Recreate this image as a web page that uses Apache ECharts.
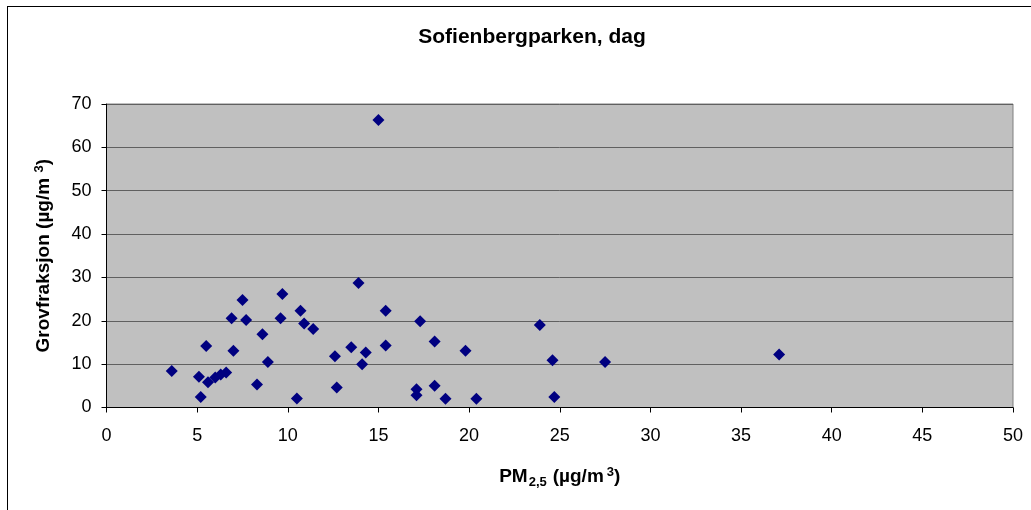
<!DOCTYPE html>
<html>
<head>
<meta charset="utf-8">
<script src="https://cdn.jsdelivr.net/npm/echarts@6/dist/echarts.min.js"></script>
<style>
  html, body { margin: 0; padding: 0; background: #fff; }
  #frame { position: absolute; left: 7px; top: 6px; width: 1030px; height: 520px; border: 1px solid #000; box-sizing: border-box; }
  #chart { position: absolute; left: 0; top: 0; width: 1031px; height: 510px; }
</style>
</head>
<body>
<div id="frame"></div>
<div id="chart"></div>
<script>
// PM2,5 (x) mot grovfraksjon (y), Sofienbergparken dag
const pm25 = [3.6, 5.1, 5.2, 5.5, 5.6, 6.0, 6.3, 6.6, 6.9, 7.0, 7.5, 7.7, 8.6, 8.3, 8.9,
  9.7, 9.6, 10.5, 10.7, 10.9, 11.4, 12.6, 12.7, 13.5, 13.9, 14.3, 14.1, 15.0, 15.4, 15.4,
  17.3, 17.1, 17.1, 18.1, 18.1, 18.7, 19.8, 20.4, 23.9, 24.6, 24.7, 27.5, 37.1]
const grov = [8.4, 7.1, 2.4, 14.2, 5.8, 6.9, 7.6, 8.1, 20.6, 13.1, 24.8, 20.2, 16.9, 5.3, 10.5,
  26.2, 20.6, 2.1, 22.3, 19.4, 18.1, 11.8, 4.6, 13.9, 28.7, 12.7, 10.0, 66.3, 22.3, 14.3,
  19.9, 4.2, 2.8, 15.2, 5.0, 2.0, 13.1, 2.0, 19.0, 10.9, 2.4, 10.5, 12.2]

const chart = echarts.init(document.getElementById('chart'))
chart.setOption({
  animation: false,
  textStyle: { fontFamily: 'Liberation Sans, Arial, sans-serif' },
  title: {
    text: 'Sofienbergparken, dag',
    left: 527, top: 22, textAlign: 'center',
    textStyle: { fontSize: 21, fontWeight: 'bold', color: '#000' }
  },
  grid: {
    left: 106.5, right: 18, top: 104, bottom: 102.5,
    show: true, backgroundColor: '#c0c0c0', borderColor: '#808080', borderWidth: 1
  },
  xAxis: {
    type: 'value', min: 0, max: 50, interval: 5,
    axisLine: { lineStyle: { color: '#000', width: 1 } },
    axisTick: { show: true, length: 5, lineStyle: { color: '#000' } },
    axisLabel: { fontSize: 18, color: '#000', margin: 20 },
    splitLine: { show: false },
    name: '{b|PM}{sub|2,5}{b|(µg/m}{sup|3}{b|)}',
    nameLocation: 'middle', nameGap: 57,
    nameTextStyle: {
      rich: {
        b: { fontSize: 19, fontWeight: 'bold', color: '#000', lineHeight: 24 },
        sub: { fontSize: 13, fontWeight: 'bold', color: '#000', padding: [12, 6, 0, 1], lineHeight: 24 },
        sup: { fontSize: 13, fontWeight: 'bold', color: '#000', padding: [0, 0, 9, 3], lineHeight: 24 }
      }
    }
  },
  yAxis: {
    type: 'value', min: 0, max: 70, interval: 10,
    axisLine: { show: true, lineStyle: { color: '#000', width: 1 } },
    axisTick: { show: true, length: 5, lineStyle: { color: '#000' } },
    axisLabel: { fontSize: 18, color: '#000', margin: 15 },
    splitLine: { show: true, lineStyle: { color: '#606060', width: 1 } },
    name: '{b|Grovfraksjon (µg/m }{sup|3}{b|)}',
    nameLocation: 'middle', nameGap: 52,
    nameTextStyle: {
      rich: {
        b: { fontSize: 19, fontWeight: 'bold', color: '#000', lineHeight: 22 },
        sup: { fontSize: 13, fontWeight: 'bold', color: '#000', padding: [0, 0, 9, 0], lineHeight: 22 }
      }
    }
  },
  series: [{
    type: 'scatter',
    symbol: 'diamond',
    symbolSize: 12,
    itemStyle: { color: '#000080', opacity: 1 },
    data: pm25.map((x, i) => [x, grov[i]])
  }]
})
</script>
</body>
</html>
